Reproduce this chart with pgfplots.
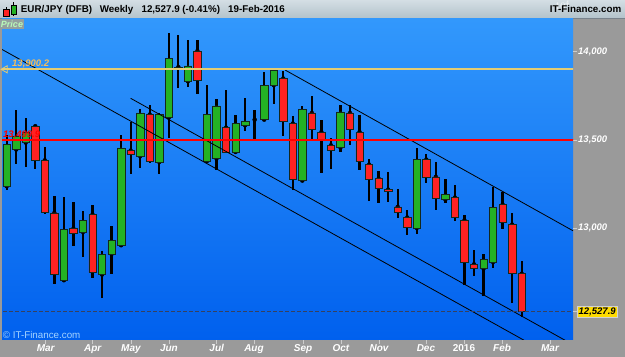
\documentclass[border=0pt]{standalone}
\usepackage{fontspec}
\setmainfont{Liberation Sans}
\usepackage{pgfplots}
\usepackage{pgfplotstable}
\pgfplotsset{compat=1.18}
\definecolor{cgreen}{RGB}{36,178,36}
\definecolor{cred}{RGB}{255,34,34}
\definecolor{cedge}{RGB}{20,40,30}
\definecolor{bgtop}{RGB}{50,152,252}
\definecolor{bgbot}{RGB}{0,96,238}
\definecolor{panel}{RGB}{154,154,154}
\definecolor{goldl}{RGB}{228,205,115}
\definecolor{goldt}{RGB}{245,190,90}
\definecolor{dashc}{RGB}{55,65,95}
\definecolor{hdrtop}{RGB}{212,222,228}
\definecolor{hdrbot}{RGB}{178,194,202}
\definecolor{hdrline}{RGB}{120,130,140}
\definecolor{tickc}{RGB}{205,205,205}
\definecolor{copyc}{RGB}{165,212,255}
\definecolor{pricebox}{RGB}{148,160,158}
\definecolor{pricetxt}{RGB}{185,250,185}
\definecolor{lastbox}{RGB}{255,220,0}
\definecolor{lastdraw}{RGB}{210,210,210}
\pgfplotstableread{
x open high low close
0 13238 13527 13219 13474
1 13446 13668 13364 13521
2 13485 13625 13347 13545
3 13578 13583 13334 13383
4 13385 13459 13083 13092
5 13087 13185 12685 12738
6 12706 13176 12700 12993
7 12998 13149 12898 12970
8 12979 13098 12837 13045
9 13078 13130 12719 12749
10 12738 12870 12605 12851
11 12854 13011 12743 12930
12 12904 13527 12900 13455
13 13440 13602 13310 13421
14 13408 13678 13341 13653
15 13644 13697 13370 13381
16 13375 13651 13306 13644
17 13627 14103 13511 13961
18 13913 14097 13795 13899
19 13832 14065 13800 13919
20 14004 14065 13763 13836
21 13381 13810 13375 13647
22 13395 13731 13328 13693
23 13570 13781 13429 13432
24 13432 13644 13426 13593
25 13583 13738 13549 13608
26 13615 13668 13498 13615
27 13615 13885 13606 13808
28 13810 13906 13702 13895
29 13848 13891 13521 13608
30 13593 13634 13219 13276
31 13270 13691 13262 13672
32 13653 13748 13498 13559
33 13545 13615 13313 13498
34 13470 13514 13334 13440
35 13457 13697 13432 13659
36 13653 13697 13474 13559
37 13545 13640 13332 13379
38 13361 13391 13155 13276
39 13281 13323 13146 13225
40 13219 13319 13149 13210
41 13121 13225 13058 13089
42 13061 13102 12964 13007
43 13002 13457 12970 13389
44 13389 13423 13259 13291
45 13291 13375 13102 13168
46 13163 13281 13146 13193
47 13174 13244 13041 13061
48 13045 13078 12681 12806
49 12796 12875 12728 12775
50 12772 12857 12615 12823
51 12809 13234 12777 13117
52 13134 13206 12998 13032
53 13021 13087 12577 12743
54 12743 12815 12498 12527.9
}\data
\pgfplotsset{base/.style={at={(2bp,17bp)}, anchor=south west, scale only axis,
  width=571bp, height=321bp, xmin=-0.49, xmax=59.38, ymin=12367.5, ymax=14185}}
\begin{document}
\begin{tikzpicture}
\useasboundingbox (0,0) rectangle (625bp,357bp);
% frame pieces
\fill[panel] (0,0) rectangle (625bp,357bp);
\shade[top color=hdrtop, bottom color=hdrbot] (0,338.5bp) rectangle (625bp,357bp);
\draw[hdrline, line width=0.5bp] (0,338.5bp) -- (625bp,338.5bp);
\begin{axis}[base,
  axis background/.style={shade, top color=bgtop, bottom color=bgbot},
  axis line style={draw=none},
  tick align=outside, major tick length=3.5bp,
  major tick style={draw=tickc, line width=0.8bp},
  ytick pos=right, yticklabel pos=right, xtick pos=bottom,
  ytick={13000,13500,14000}, yticklabels={{13,000},{13,500},{14,000}},
  xtick={4.09,9.02,13.03,17.01,22.02,25.93,31.07,35.05,39.04,43.96,47.95,51.94,56.97},
  xticklabels={Mar,Apr,May,Jun,Jul,Aug,Sep,Oct,Nov,Dec,{\upshape 2016},Feb,Mar},
  yticklabel style={font=\fontsize{9.5bp}{10bp}\selectfont\bfseries\itshape, text=white, inner sep=1.5bp},
  xticklabel style={font=\fontsize{10bp}{11bp}\selectfont\bfseries\itshape, text=white, inner sep=1bp},
  /pgf/number format/assume math mode=true]
\addplot[only marks, mark=none, error bars/.cd, y dir=both, y explicit, error mark=none,
  error bar style={line width=2.3bp, draw=black}]
  table[x=x, y=open, y error plus expr=\thisrow{high}-\thisrow{open}, y error minus expr=\thisrow{open}-\thisrow{low}] {\data};
\end{axis}
\begin{axis}[base, hide axis, ybar stacked, bar width=7.4bp]
\addplot[draw=none, fill=none] table[x=x, y expr={min(\thisrow{open},\thisrow{close})}] {\data};
\addplot[fill=cgreen, draw=cedge, line width=0.6bp] table[x=x, y expr={max(\thisrow{close}-\thisrow{open},0)}] {\data};
\addplot[fill=cred, draw=cedge, line width=0.6bp] table[x=x, y expr={max(\thisrow{open}-\thisrow{close},0)}] {\data};
\end{axis}
\begin{axis}[base, hide axis]
\addplot[black, line width=0.8bp] coordinates {(-0.70,14019) (59.38,12211.7)};
\addplot[black, line width=0.8bp] coordinates {(13.0,13736) (59.38,12341)};
\addplot[black, line width=0.8bp] coordinates {(29.18,13896.5) (59.38,12986)};
\addplot[goldl, line width=1.6bp] coordinates {(-1,13900.2) (60,13900.2)};
\addplot[red, line width=1.1bp] coordinates {(-1,13499.9) (60,13499.9)};
\addplot[dashc, line width=0.9bp, dash pattern=on 3.5bp off 2.5bp] coordinates {(-1,12527.9) (60,12527.9)};
\addplot[only marks, mark=triangle, mark size=4.2bp, mark options={rotate=90, draw=goldl, fill=none, line width=0.8bp}] coordinates {(-0.15,13900.2)};
\end{axis}
% labels
\node[font=\fontsize{9.5bp}{10bp}\selectfont\bfseries\itshape, text=goldt, inner sep=0, anchor=west] at (12bp,293.5bp) {13,900.2};
\node[font=\fontsize{9.5bp}{10bp}\selectfont\bfseries\itshape, text=red, inner sep=0, anchor=west] at (3bp,222.5bp) {13,499.9};
\node[font=\fontsize{9.8bp}{10bp}\selectfont, text=copyc, inner sep=0, anchor=west] at (2.7bp,22bp) {© IT-Finance.com};
\fill[pricebox] (0,327.5bp) rectangle (24bp,338bp);
\node[font=\fontsize{9bp}{10bp}\selectfont\bfseries\itshape, text=pricetxt, inner sep=0] at (12bp,332.7bp) {Price};
% last price box
\draw[tickc, line width=0.8bp] (573bp,45.3bp) -- (577bp,45.3bp);
\node[fill=lastbox, draw=lastdraw, line width=0.4bp, inner xsep=1.5bp, inner ysep=1.5bp, font=\fontsize{9.5bp}{10bp}\selectfont\bfseries\itshape, text=black, anchor=west] at (577bp,45.3bp) {12,527.9};
% header
\begin{scope}[font=\fontsize{9.8bp}{11bp}\selectfont\bfseries]
\node[anchor=base west, inner sep=0] at (20.7bp,344.5bp) {EUR/JPY (DFB)};
\node[anchor=base west, inner sep=0] at (99.6bp,344.5bp) {Weekly};
\node[anchor=base west, inner sep=0] at (141.4bp,344.5bp) {12,527.9 (-0.41\%)};
\node[anchor=base west, inner sep=0] at (228bp,344.5bp) {19-Feb-2016};
\node[anchor=base east, inner sep=0] at (621.5bp,344.5bp) {IT-Finance.com};
\end{scope}
% icon
\draw[black, line width=0.6bp] (6bp,339.5bp) -- (6bp,349.5bp);
\filldraw[fill=cred, draw=black, line width=0.4bp] (3.3bp,341bp) rectangle (8.7bp,347.5bp);
\draw[black, line width=0.6bp] (13.5bp,341bp) -- (13.5bp,355bp);
\filldraw[fill=cgreen, draw=black, line width=0.4bp] (11bp,343bp) rectangle (16bp,352bp);
\end{tikzpicture}
\end{document}
